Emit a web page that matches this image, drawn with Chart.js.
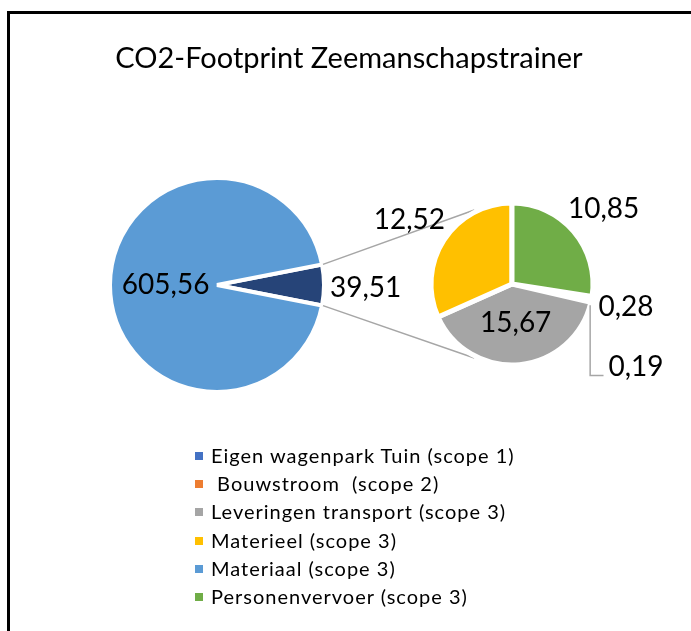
<!DOCTYPE html>
<html>
<head>
<meta charset="utf-8">
<script src="https://cdn.jsdelivr.net/npm/chart.js@4.4.1/dist/chart.umd.min.js"></script>
<style>
  body { margin: 0; width: 691px; height: 631px; overflow: hidden; position: relative; background: #fff; font-family: Lato, sans-serif; }
  #frame { position: absolute; left: 7px; top: 11px; width: 800px; height: 800px; border: 3px solid #000; box-sizing: border-box; }
  canvas { position: absolute; left: 0; top: 0; }
  #legend { position: absolute; left: 195px; top: 441px; margin: 0; padding: 0; list-style: none; font-size: 20px; letter-spacing: 1px; color: #000; }
  #legend li { height: 28.2px; line-height: 28.2px; white-space: pre; }
  #legend .box { display: inline-block; width: 8px; height: 8px; margin-right: 8px; vertical-align: middle; position: relative; top: -2px; }
</style>
</head>
<body>
<div id="frame"></div>
<canvas id="mainPie" width="691" height="631"></canvas>
<canvas id="subPie" width="691" height="631"></canvas>
<ul id="legend"></ul>
<script>
const title = "CO2-Footprint Zeemanschapstrainer";
const categories = [
  "Eigen wagenpark Tuin (scope 1)",
  " Bouwstroom  (scope 2)",
  "Leveringen transport (scope 3)",
  "Materieel (scope 3)",
  "Materiaal (scope 3)",
  "Personenvervoer (scope 3)",
];
const values = [0.28, 0.19, 15.67, 12.52, 605.56, 10.85];
// the big slice stays in the first pie, the rest goes to the second one
const mainCategory = "Materiaal (scope 3)";

const colors = ["#4472C4", "#ED7D31", "#A5A5A5", "#FFC000", "#5B9BD5", "#70AD47"];
const otherColor = "#264478";
const lineColor = "#a6a6a6";

const mainIdx = categories.indexOf(mainCategory);
const subLabels = categories.filter((c, i) => i !== mainIdx);
const subValues = values.filter((v, i) => i !== mainIdx);
const subColors = colors.filter((c, i) => i !== mainIdx);
const otherValue = subValues.reduce((a, b) => a + b, 0);
const mainTotal = otherValue + values[mainIdx];

const fmt = (v) => v.toFixed(2).replace(".", ",");

// put the pie at a fixed centre instead of the middle of the canvas
const pieArea = {
  id: "pieArea",
  afterLayout(chart, args, opts) {
    const a = chart.chartArea;
    const s = 260;
    a.left = opts.x - s / 2;
    a.right = opts.x + s / 2;
    a.top = opts.y - s / 2;
    a.bottom = opts.y + s / 2;
    a.width = s;
    a.height = s;
  },
};

// data labels: big slices inside, small ones outside
const valueLabels = {
  id: "valueLabels",
  afterDatasetsDraw(chart) {
    const ctx = chart.ctx;
    const meta = chart.getDatasetMeta(0);
    const data = chart.data.datasets[0].data;
    ctx.save();
    ctx.font = "28px Lato";
    ctx.fillStyle = "#000";
    ctx.textAlign = "center";
    ctx.textBaseline = "middle";
    let prev = null;
    meta.data.forEach((arc, i) => {
      const { x, y, startAngle, endAngle, outerRadius } = arc.getProps(
        ["x", "y", "startAngle", "endAngle", "outerRadius"], true);
      const mid = (startAngle + endAngle) / 2;
      const cos = Math.cos(mid), sin = Math.sin(mid);
      const text = fmt(data[i]);
      const w = ctx.measureText(text).width;
      const h = 20;
      let lx, ly;
      if (endAngle - startAngle > 2.2) {
        lx = x + cos * outerRadius * 0.48;
        ly = y + sin * outerRadius * 0.48;
      } else {
        const d = outerRadius + 6 + Math.abs(cos) * w / 2 + Math.abs(sin) * h / 2;
        lx = x + cos * d;
        ly = y + sin * d + 3;
        if (prev && Math.abs(ly - prev.y) < h + 8 && Math.abs(lx - prev.x) < (w + prev.w) / 2) {
          const ex = x + cos * outerRadius - 1;
          const ey = y + sin * outerRadius + 4;
          lx = prev.x + 10;
          ly = prev.y + 60;
          ctx.strokeStyle = lineColor;
          ctx.lineWidth = 1.5;
          ctx.beginPath();
          ctx.moveTo(ex, ey);
          ctx.lineTo(ex, ly + 8);
          ctx.lineTo(lx - w / 2 - 5, ly + 8);
          ctx.stroke();
        }
        prev = { x: lx, y: ly, w };
      }
      ctx.fillText(text, lx, ly);
    });
    ctx.restore();
  },
};

const mainChart = new Chart(document.getElementById("mainPie"), {
  type: "pie",
  data: {
    labels: ["Overig", mainCategory],
    datasets: [
      {
        data: [otherValue, values[mainIdx]],
        backgroundColor: [otherColor, colors[mainIdx]],
        borderColor: "#fff",
        borderWidth: 4,
      },
    ],
  },
  options: {
    responsive: false,
    animation: false,
    events: [],
    radius: 107,
    rotation: 90 - (180 * otherValue) / mainTotal,
    layout: { padding: { left: 7 } },
    plugins: {
      legend: { display: false },
      tooltip: { enabled: false },
      title: {
        display: true,
        text: title,
        color: "#000",
        font: { family: "Lato", size: 29, weight: "normal" },
        padding: { top: 41, bottom: 10 },
      },
      pieArea: { x: 217, y: 285 },
    },
  },
  plugins: [pieArea, valueLabels],
});

// lines from the "other" slice to the second pie
const connectors = {
  id: "connectors",
  beforeDatasetsDraw(chart) {
    const big = mainChart.getDatasetMeta(0).data[0];
    const small = chart.getDatasetMeta(0).data[0];
    const ctx = chart.ctx;
    const r1 = big.outerRadius + 1;
    const r2 = small.outerRadius + 2;
    const reach = (117 * Math.PI) / 180;
    ctx.save();
    ctx.strokeStyle = lineColor;
    ctx.lineWidth = 1.5;
    ctx.beginPath();
    ctx.moveTo(big.x + r1 * Math.cos(big.startAngle), big.y + r1 * Math.sin(big.startAngle));
    ctx.lineTo(small.x + r2 * Math.cos(-reach), small.y + r2 * Math.sin(-reach));
    ctx.moveTo(big.x + r1 * Math.cos(big.endAngle), big.y + r1 * Math.sin(big.endAngle));
    ctx.lineTo(small.x + r2 * Math.cos(reach), small.y + r2 * Math.sin(reach));
    ctx.stroke();
    ctx.restore();
  },
};

const lastSub = subValues[subValues.length - 1];
new Chart(document.getElementById("subPie"), {
  type: "pie",
  data: {
    labels: subLabels,
    datasets: [
      {
        data: subValues,
        backgroundColor: subColors,
        borderColor: "#fff",
        borderWidth: 5,
      },
    ],
  },
  options: {
    responsive: false,
    animation: false,
    events: [],
    radius: 81,
    rotation: (360 * lastSub) / otherValue,
    plugins: {
      legend: { display: false },
      tooltip: { enabled: false },
      pieArea: { x: 512, y: 284 },
    },
  },
  plugins: [pieArea, connectors, valueLabels],
});

// legend under the pies
const legend = document.getElementById("legend");
categories.forEach((c, i) => {
  const li = document.createElement("li");
  const box = document.createElement("span");
  box.className = "box";
  box.style.background = colors[i];
  li.appendChild(box);
  li.appendChild(document.createTextNode(c));
  legend.appendChild(li);
});
</script>
</body>
</html>
